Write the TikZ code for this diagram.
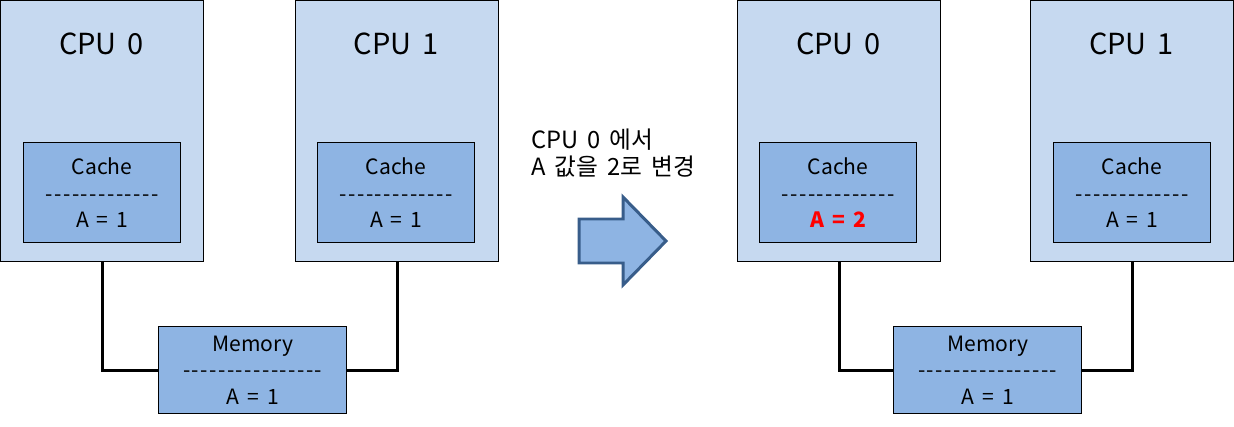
\documentclass[tikz,border=0pt]{standalone}
\usepackage{fontspec}
\setmainfont{Noto Sans CJK KR}[Ligatures=TeXOff,WordSpace=1.7]
\usepackage{xcolor}
\definecolor{cpufill}{RGB}{198,217,240}
\definecolor{cachefill}{RGB}{142,180,227}
\definecolor{arrowline}{RGB}{56,93,138}
\newcommand\dashrow[1]{{\addfontfeature{LetterSpace=7}#1}}
\begin{document}
\begin{tikzpicture}[x=0.02cm,y=-0.02cm,
cpubox/.style={draw,fill=cpufill,line width=0.8pt,inner sep=0pt,anchor=north west,minimum width=4.06cm,minimum height=5.22cm},
cachebox/.style={draw,fill=cachefill,line width=0.8pt,inner sep=0pt,anchor=north west,align=center,minimum width=3.14cm,minimum height=2cm,font=\fontsize{12}{15}\selectfont},
membox/.style={cachebox,minimum width=3.76cm,minimum height=1.74cm},
title/.style={font=\fontsize{16.5}{20}\selectfont},
wire/.style={line width=1.7pt}]
\useasboundingbox(0,0)rectangle(1234,426);
\node[cpubox](cpu0L)at(0,0){};
\node[cpubox](cpu1L)at(295,0){};
\node[cpubox](cpu0R)at(737,0){};
\node[cpubox](cpu1R)at(1030,0){};
\node[title](title0L)at(101.5,44){CPU 0};
\node[title](title1L)at(396,44){CPU 1};
\node[title](title0R)at(838.5,44){CPU 0};
\node[title](title1R)at(1131.5,44){CPU 1};
\node[cachebox](cache0L)at(23,142){Cache\\\dashrow{-------------}\\A = 1};
\node[cachebox](cache1L)at(317,142){Cache\\\dashrow{-------------}\\A = 1};
\node[cachebox](cache0R)at(759,142){Cache\\\dashrow{-------------}\\\textcolor{red}{\bfseries A = 2}};
\node[cachebox](cache1R)at(1053,142){Cache\\\dashrow{-------------}\\A = 1};
\node[membox](memL)at(158,326){Memory\\\dashrow{----------------}\\A = 1};
\node[membox](memR)at(893,326){Memory\\\dashrow{----------------}\\A = 1};
\draw[wire](cpu0L.south)|-(memL.west);
\draw[wire](cpu1L.south)|-(memL.east);
\draw[wire](cpu0R.south)|-(memR.west);
\draw[wire](cpu1R.south)|-(memR.east);
\node[anchor=west,align=left,inner sep=0pt,font=\fontsize{13.5}{15.4}\selectfont](step)at(531,153.5){CPU 0 에서\\A 값을 2로 변경};
\draw[line width=1.7pt,arrowline,fill=cachefill,line join=miter](579,219)--(623,219)--(623,197)--(666,241)--(623,285)--(623,263)--(579,263)--cycle;
\end{tikzpicture}
\end{document}
